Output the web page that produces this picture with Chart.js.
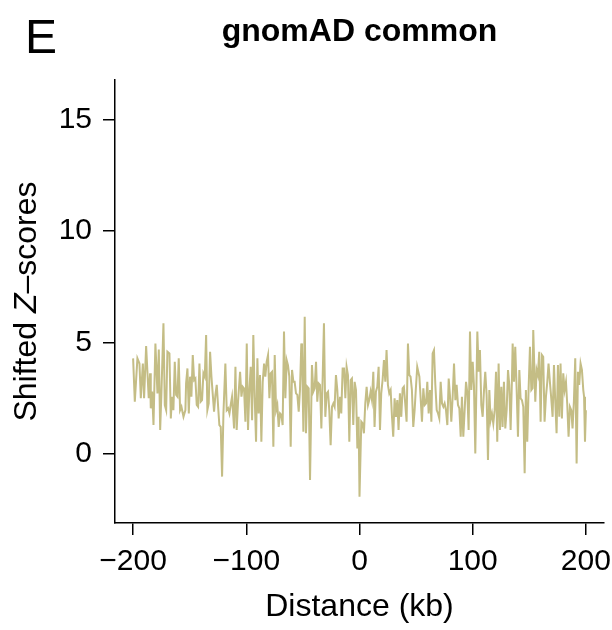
<!DOCTYPE html>
<html>
<head>
<meta charset="utf-8">
<script src="https://cdn.jsdelivr.net/npm/chart.js@4"></script>
<style>
  body { margin: 0; background: #fff; }
  canvas { display: block; }
</style>
</head>
<body>
<canvas id="zChart" width="612" height="630"></canvas>
<script>
const chartTitle = 'gnomAD common';
const panelLetter = 'E';
const xTicks = [-200, -100, 0, 100, 200];
const yTicks = [0, 5, 10, 15];

// distance from centre (kb)
const distanceKb = [
    -200.0, -198.5, -196.2, -194.4, -193.2, -191.4, -190.3, -188.5, -187.3, -186.2,
    -185.0, -184.4, -183.2, -182.0, -180.3, -178.5, -177.3, -176.1, -175.0, -173.2,
    -172.0, -170.8, -169.7, -167.9, -166.7, -165.6, -164.4, -163.2, -162.0, -160.8,
    -159.7, -158.5, -157.3, -155.5, -153.8,
    -153.2, -152.0, -150.8, -149.7, -148.5, -147.3, -146.1, -145.0, -143.8, -142.6,
    -141.4, -140.3, -139.1, -137.9, -136.7, -135.5, -134.4, -133.2, -132.0, -130.8,
    -129.7, -128.5, -127.3, -126.1, -124.9, -123.8, -122.6, -121.4, -120.2, -118.5,
    -117.3, -116.1, -114.9, -113.8, -112.6, -110.8, -109.6, -108.5, -107.3, -105.5,
    -104.3, -103.2,
    -102.0, -100.8, -99.6, -98.5, -97.3, -96.1, -94.9, -93.8, -92.6, -91.4,
    -90.2, -89.1, -87.9, -86.7, -85.5, -84.3, -83.2, -82.0, -80.8, -79.6,
    -78.5, -77.3, -76.1, -74.9, -73.7, -72.6, -71.4, -70.2, -69.0, -67.9,
    -66.7, -65.5, -64.3, -63.2, -62.0, -60.8, -59.6, -58.4, -57.3, -56.1,
    -54.9, -53.7, -52.6, -51.4,
    -50.8, -49.6, -48.4, -47.3, -46.1, -44.9, -43.7, -42.0, -40.8, -39.6,
    -38.4, -37.3, -36.1, -34.9, -33.7, -32.6, -31.4, -30.2, -29.0, -27.8,
    -26.7, -25.5, -24.3, -23.1, -22.0, -20.8, -19.6, -18.4, -17.2, -16.1,
    -14.9, -13.7, -12.5, -11.4, -10.2, -9.0, -7.8, -6.7, -5.5, -4.3,
    -3.1, -1.9, -0.8, 0.0,
    1.6, 2.8, 3.9, 5.1, 6.3, 7.5, 8.6, 9.8, 11.0, 12.2,
    13.3, 14.5, 15.7, 16.9, 18.1, 19.2, 20.4, 21.6, 22.8, 23.9,
    25.1, 26.3, 27.5, 28.7, 29.8, 31.0, 32.2, 33.4, 34.5, 35.7,
    36.9, 38.1, 39.2, 40.4, 41.6, 42.8, 44.0, 45.1, 46.3, 47.5,
    48.7, 49.8, 51.0,
    52.9, 54.1, 55.2, 56.4, 57.6, 58.8, 59.9, 61.1, 62.3, 63.5,
    64.6, 65.8, 67.0, 68.2, 69.4, 70.5, 71.7, 72.9, 74.1, 75.2,
    76.4, 77.6, 78.8, 79.9, 81.1, 82.3, 83.5, 84.7, 85.8, 87.0,
    88.2, 89.4, 90.5, 91.7, 92.9, 94.1, 95.3, 96.4, 97.6, 98.8,
    100.0, 101.1, 102.3,
    104.1, 105.3, 106.4, 107.6, 108.8, 110.0, 111.1, 112.3, 113.5, 114.7,
    115.8, 117.0, 118.2, 119.4, 120.6, 121.7, 122.9, 124.1, 125.3, 126.4,
    127.6, 128.8, 130.0, 131.2, 132.3, 133.5, 134.7, 135.3, 136.5, 137.6,
    138.8, 140.0, 141.2, 142.3, 143.5, 144.7, 145.9, 147.0, 148.2, 149.4,
    150.6, 151.8, 152.9, 153.5,
    155.3, 156.5, 157.6, 158.8, 160.0, 161.2, 162.3, 163.5, 164.7, 165.9,
    167.0, 168.2, 169.4, 170.6, 171.8, 172.9, 174.1, 175.3, 176.5, 177.6,
    178.8, 180.0, 181.2, 182.4, 183.5, 184.7, 185.9, 187.1, 188.2, 189.4,
    190.6, 191.8, 193.0, 194.1, 195.3, 196.5, 197.7, 198.4, 199.2, 200.0
];

const shiftedZ = [
    4.29, 2.35, 4.29, 4.06, 2.50, 4.06, 2.50, 4.84, 3.62, 2.50,
    3.62, 2.05, 2.80, 1.30, 4.96, 2.72, 4.69, 1.08, 2.72, 5.86,
    2.20, 1.97, 4.59, 4.51, 1.60, 2.57, 1.97, 4.14, 2.65, 2.57,
    4.29, 1.97, 2.12, 1.67, 1.97,
    3.17, 3.84, 1.82, 3.47, 2.57, 4.44, 3.32, 3.39, 2.20, 2.12,
    4.06, 2.35, 2.42, 3.62, 3.47, 5.34, 1.97, 2.27, 4.59, 3.47,
    2.72, 1.90, 2.65, 3.10, 2.12, 1.30, 1.22, -1.01, 1.82, 4.06,
    1.97, 2.05, 1.82, 2.20, 2.57, 1.15, 3.91, 1.08, 2.35, 3.69,
    2.57, 3.02,
    2.95, 1.45, 4.96, 1.08, 2.87, 3.91, 1.52, 5.34, 2.57, 0.55,
    4.29, 1.82, 3.54, 0.55, 3.24, 4.06, 3.47, 4.14, 4.44, 2.50,
    3.62, 3.69, 0.33, 4.44, 1.97, 2.20, 1.22, 1.82, 1.75, 1.30,
    5.49, 2.50, 4.21, 3.99, 3.47, 0.33, 3.77, 3.24, 3.24, 2.72,
    2.65, 1.90, 2.87, 4.96,
    4.66, 1.00, 6.16, 0.93, 3.02, 2.95, -1.16, 3.99, 2.80, 2.95,
    4.14, 2.35, 3.17, 3.10, 1.15, 3.32, 5.86, 1.67, 2.72, 2.80,
    1.97, 0.40, 2.12, 2.27, 2.12, 3.54, 2.87, 1.60, 2.57, 1.82,
    3.84, 3.84, 2.50, 3.91, 3.54, 0.55, 3.32, 3.39, 1.30, 3.24,
    2.87, 0.25, 1.67, -1.91,
    1.45, 1.37, 0.93, 2.27, 3.02, 2.20, 2.42, 2.80, 2.42, 3.69,
    1.22, 2.80, 3.02, 3.91, 1.08, 2.72, 3.32, 4.21, 3.24, 4.66,
    3.10, 2.72, 2.87, 1.67, 0.78, 2.50, 1.67, 2.42, 1.08, 2.72,
    1.67, 2.95, 3.02, 2.27, 1.45, 4.96, 3.54, 3.47, 2.87, 1.22,
    1.97, 2.95, 3.91,
    3.47, 2.42, 1.45, 2.95, 2.20, 2.27, 3.24, 1.82, 2.87, 1.45,
    4.51, 4.66, 3.10, 1.97, 1.82, 1.60, 3.24, 2.27, 2.12, 2.27,
    1.97, 1.30, 3.39, 2.65, 1.45, 2.57, 4.06, 2.42, 3.10, 2.20,
    2.05, 0.78, 2.57, 0.78, 1.97, 3.24, 2.72, 1.08, 5.49, 2.87,
    4.14, 3.10, 0.03,
    5.49, 3.69, 4.66, 2.20, 1.67, 2.87, 3.69, 2.65, -0.27, 2.87,
    1.52, 1.82, 1.37, 1.97, 3.69, 0.55, 4.06, 1.08, 3.02, 1.22,
    3.24, 1.15, 1.97, 3.77, 3.10, 1.08, 3.39, 4.96, 3.24, 4.81,
    2.95, 0.78, 3.77, 2.50, 2.42, 2.12, -0.86, 2.87, 0.55, 2.95,
    4.81, 2.87, 2.95, 5.56,
    2.35, 3.77, 3.54, 4.59, 1.45, 4.44, 4.36, 1.45, 2.57, 3.24,
    4.06, 3.24, 2.50, 1.67, 3.99, 2.42, 0.93, 3.99, 1.67, 4.06,
    1.60, 3.62, 2.87, 3.24, 2.27, 0.78, 2.12, 1.97, 1.15, 2.35,
    4.29, -0.42, 3.69, 3.10, 4.06, 3.77, 2.87, 2.57, 0.55, 1.97
];

const FONT = '"Liberation Sans", Arial, Helvetica, sans-serif';
const lineColour = '#c4bd85';

const fmtTick = v => (v < 0 ? '\u2212' + Math.abs(v) : String(v));

// title, panel letter and the y label (with italic Z)
const annotate = {
    id: 'annotate',
    afterDraw(chart) {
        const ctx = chart.ctx;
        const ca = chart.chartArea;
        ctx.save();
        ctx.fillStyle = '#000';
        ctx.textBaseline = 'alphabetic';

        ctx.font = 'bold 32px ' + FONT;
        ctx.textAlign = 'center';
        ctx.fillText(chartTitle, (ca.left + ca.right) / 2, 41);

        ctx.font = '48px ' + FONT;
        ctx.textAlign = 'left';
        ctx.fillText(panelLetter, 25, 53);

        const parts = [
            ['Shifted ', '32px ' + FONT],
            ['Z', 'italic 32px ' + FONT],
            ['\u2013scores', '32px ' + FONT]
        ];
        let total = 0;
        parts.forEach(p => { ctx.font = p[1]; total += ctx.measureText(p[0]).width; });
        ctx.translate(36, (ca.top + ca.bottom) / 2);
        ctx.rotate(-Math.PI / 2);
        let x = -total / 2;
        parts.forEach(p => {
            ctx.font = p[1];
            ctx.fillText(p[0], x, 0);
            x += ctx.measureText(p[0]).width;
        });
        ctx.restore();
    }
};

const points = distanceKb.map((d, i) => ({ x: d, y: shiftedZ[i] }));

new Chart(document.getElementById('zChart'), {
    type: 'line',
    data: {
        datasets: [{
            data: points,
            borderColor: lineColour,
            borderWidth: 2,
            pointRadius: 0,
            tension: 0,
            fill: false
        }]
    },
    options: {
        responsive: false,
        animation: false,
        devicePixelRatio: 1,
        layout: { padding: { top: 80, right: 8, left: 0, bottom: 0 } },
        plugins: { legend: { display: false }, tooltip: { enabled: false } },
        scales: {
            x: {
                type: 'linear',
                min: -216,
                max: 216,
                afterBuildTicks: s => { s.ticks = xTicks.map(v => ({ value: v })); },
                afterFit: s => { s.height = 107; s.paddingLeft = 0; s.paddingRight = 0; },
                grid: { drawOnChartArea: false, drawTicks: true, tickLength: 12, color: '#000', lineWidth: 1.5 },
                border: { color: '#000', width: 1.5 },
                ticks: { color: '#000', font: { family: FONT, size: 30 }, padding: 9, maxRotation: 0, autoSkip: false, callback: fmtTick },
                title: { display: true, text: 'Distance (kb)', color: '#000', font: { family: FONT, size: 32 }, padding: { top: 0, bottom: 4 } }
            },
            y: {
                type: 'linear',
                min: -3.09,
                max: 16.77,
                afterBuildTicks: s => { s.ticks = yTicks.map(v => ({ value: v })); },
                afterFit: s => { s.width = 115; s.paddingTop = 0; s.paddingBottom = 0; },
                grid: { drawOnChartArea: false, drawTicks: true, tickLength: 12, color: '#000', lineWidth: 1.5 },
                border: { color: '#000', width: 1.5 },
                ticks: { color: '#000', font: { family: FONT, size: 30 }, padding: 11, callback: fmtTick }
            }
        }
    },
    plugins: [annotate]
});
</script>
</body>
</html>
